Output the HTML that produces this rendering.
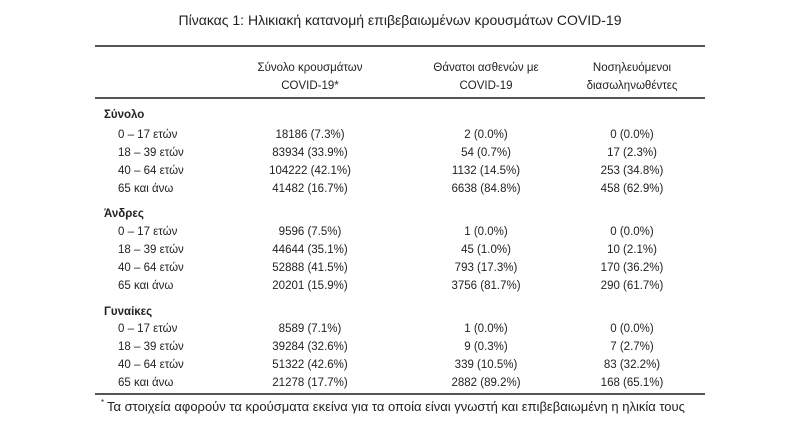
<!DOCTYPE html>
<html><head><meta charset="utf-8"><style>
body{margin:0;width:800px;height:430px;background:#fff;position:relative;overflow:hidden;font-family:"Liberation Sans","DejaVu Sans",sans-serif;color:#222;font-size:11.5px}
.t{position:absolute;white-space:nowrap;line-height:14px}
.c{transform:translateX(-50%)}
.l{position:absolute;left:95px;width:610px;background:#555}
b{font-weight:bold}
</style></head><body>
<div class="t c" style="left:400px;top:13px;font-size:14px">Πίνακας 1: Ηλικιακή κατανομή επιβεβαιωμένων κρουσμάτων COVID-19</div>
<div class="l" style="top:45px;height:2px"></div>
<div class="l" style="top:97px;height:2px"></div>
<div class="l" style="top:393px;height:2px"></div>
<div class="t c" style="left:310px;top:61px">Σύνολο κρουσμάτων</div>
<div class="t c" style="left:310px;top:79px">COVID-19*</div>
<div class="t c" style="left:486px;top:61px">Θάνατοι ασθενών με</div>
<div class="t c" style="left:486px;top:79px">COVID-19</div>
<div class="t c" style="left:632px;top:61px">Νοσηλευόμενοι</div>
<div class="t c" style="left:632px;top:79px">διασωληνωθέντες</div>

<div class="t" style="left:104px;top:108px"><b>Σύνολο</b></div>
<div class="t" style="left:118px;top:128px">0 – 17 ετών</div><div class="t c" style="left:310px;top:128px">18186 (7.3%)</div><div class="t c" style="left:486px;top:128px">2 (0.0%)</div><div class="t c" style="left:632px;top:128px">0 (0.0%)</div>
<div class="t" style="left:118px;top:146px">18 – 39 ετών</div><div class="t c" style="left:310px;top:146px">83934 (33.9%)</div><div class="t c" style="left:486px;top:146px">54 (0.7%)</div><div class="t c" style="left:632px;top:146px">17 (2.3%)</div>
<div class="t" style="left:118px;top:164px">40 – 64 ετών</div><div class="t c" style="left:310px;top:164px">104222 (42.1%)</div><div class="t c" style="left:486px;top:164px">1132 (14.5%)</div><div class="t c" style="left:632px;top:164px">253 (34.8%)</div>
<div class="t" style="left:118px;top:182px">65 και άνω</div><div class="t c" style="left:310px;top:182px">41482 (16.7%)</div><div class="t c" style="left:486px;top:182px">6638 (84.8%)</div><div class="t c" style="left:632px;top:182px">458 (62.9%)</div>

<div class="t" style="left:104px;top:207px"><b>Άνδρες</b></div>
<div class="t" style="left:118px;top:225px">0 – 17 ετών</div><div class="t c" style="left:310px;top:225px">9596 (7.5%)</div><div class="t c" style="left:486px;top:225px">1 (0.0%)</div><div class="t c" style="left:632px;top:225px">0 (0.0%)</div>
<div class="t" style="left:118px;top:243px">18 – 39 ετών</div><div class="t c" style="left:310px;top:243px">44644 (35.1%)</div><div class="t c" style="left:486px;top:243px">45 (1.0%)</div><div class="t c" style="left:632px;top:243px">10 (2.1%)</div>
<div class="t" style="left:118px;top:261px">40 – 64 ετών</div><div class="t c" style="left:310px;top:261px">52888 (41.5%)</div><div class="t c" style="left:486px;top:261px">793 (17.3%)</div><div class="t c" style="left:632px;top:261px">170 (36.2%)</div>
<div class="t" style="left:118px;top:279px">65 και άνω</div><div class="t c" style="left:310px;top:279px">20201 (15.9%)</div><div class="t c" style="left:486px;top:279px">3756 (81.7%)</div><div class="t c" style="left:632px;top:279px">290 (61.7%)</div>

<div class="t" style="left:104px;top:305px"><b>Γυναίκες</b></div>
<div class="t" style="left:118px;top:322px">0 – 17 ετών</div><div class="t c" style="left:310px;top:322px">8589 (7.1%)</div><div class="t c" style="left:486px;top:322px">1 (0.0%)</div><div class="t c" style="left:632px;top:322px">0 (0.0%)</div>
<div class="t" style="left:118px;top:340px">18 – 39 ετών</div><div class="t c" style="left:310px;top:340px">39284 (32.6%)</div><div class="t c" style="left:486px;top:340px">9 (0.3%)</div><div class="t c" style="left:632px;top:340px">7 (2.7%)</div>
<div class="t" style="left:118px;top:358px">40 – 64 ετών</div><div class="t c" style="left:310px;top:358px">51322 (42.6%)</div><div class="t c" style="left:486px;top:358px">339 (10.5%)</div><div class="t c" style="left:632px;top:358px">83 (32.2%)</div>
<div class="t" style="left:118px;top:376px">65 και άνω</div><div class="t c" style="left:310px;top:376px">21278 (17.7%)</div><div class="t c" style="left:486px;top:376px">2882 (89.2%)</div><div class="t c" style="left:632px;top:376px">168 (65.1%)</div>

<div class="t" style="left:101px;top:396px;font-size:8px">*</div>
<div class="t" style="left:107px;top:400px;font-size:13px">Τα στοιχεία αφορούν τα κρούσματα εκείνα για τα οποία είναι γνωστή και επιβεβαιωμένη η ηλικία τους</div>
</body></html>
